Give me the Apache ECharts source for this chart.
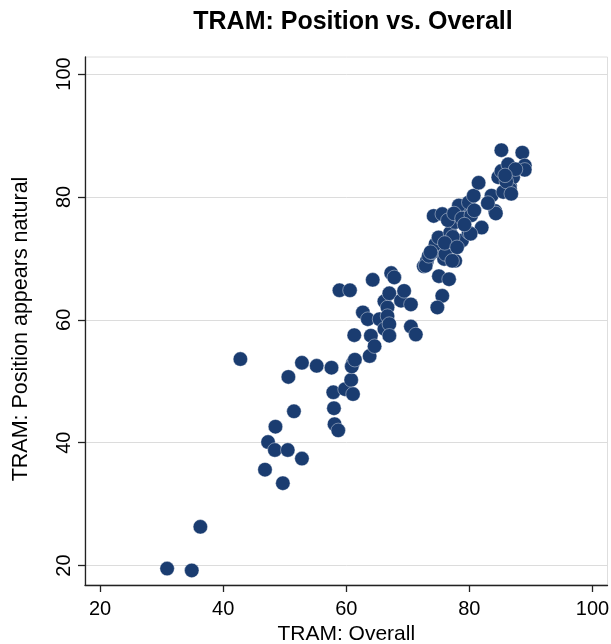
<!DOCTYPE html>
<html>
<head>
<meta charset="utf-8">
<script src="https://cdn.jsdelivr.net/npm/echarts@6/dist/echarts.min.js"></script>
<style>html,body{margin:0;padding:0;background:#fff}#c{width:611px;height:644px}</style>
</head>
<body>
<div id="c"></div>
<script>
var titleText = "TRAM: Position vs. Overall";
var xName = "TRAM: Overall";
var yName = "TRAM: Position appears natural";
var xTicks = [20, 40, 60, 80, 100];
var yTicks = [20, 40, 60, 80, 100];
var overall = [
 30.9,34.9,36.3,42.8,46.8,47.3,48.4,48.5,49.7,50.5,50.6,51.5,52.8,52.8,55.2,57.6,
 57.9,58.0,58.1,58.7,59.8,60.8,61.1,61.1,61.3,60.9,61.4,
 58.9,60.6,62.7,63.5,63.8,64.0,64.3,64.6,65.4,66.2,66.2,66.7,66.7,67.0,67.0,67.0,67.3,67.8,68.9,69.4,70.5,70.5,71.3,72.6,73.1,
 72.9,73.4,74.0,74.5,75.0,75.9,76.1,77.7,75.05,76.7,75.6,74.8,74.2,75.6,76.9,77.7,78.5,78.8,79.6,79.9,82.0,78.3,79.9,80.7,81.5,83.6,84.2,
 84.7,85.2,85.2,86.3,86.6,87.1,88.6,89.0,89.0,86.6,84.3,80.2,
 76.5,77.5,78.8,80.3,80.8,79.2,77.3,76.0,78.0,83.0,85.5,86.0,87.5,85.8,86.8,73.7,77.2
];
var position = [
 19.5,19.2,26.3,53.6,35.6,40.1,38.8,42.6,33.4,38.8,50.7,45.1,37.4,53.0,52.5,52.2,
 48.2,45.6,43.0,42.0,48.7,50.2,47.9,53.0,57.5,52.4,53.5,
 64.8,64.8,61.2,60.1,54.1,57.4,66.5,55.7,60.1,63.0,58.5,62.0,60.6,59.3,57.4,64.3,67.6,66.9,63.1,64.7,62.5,58.9,57.6,68.7,69.6,
 68.8,70.4,71.0,72.3,73.4,69.9,70.7,69.6,67.1,66.6,63.9,62.0,76.9,77.2,74.2,75.9,78.0,72.9,78.8,74.2,75.0,78.6,79.1,80.2,82.3,80.2,77.7,
 83.2,84.2,87.6,85.3,81.8,83.2,87.2,85.1,84.4,81.3,77.3,74.0,
 76.2,77.3,76.5,77.0,77.8,75.5,73.5,72.5,71.8,79.0,80.8,82.5,84.5,83.5,80.5,71.0,69.6
];
var points = overall.map(function(v, i){ return [v, position[i]]; });

var font = "'Liberation Sans', Arial, Helvetica, sans-serif";
var chart = echarts.init(document.getElementById('c'), null, {renderer: 'canvas'});
chart.setOption({
  animation: false,
  backgroundColor: '#fff',
  title: {
    text: titleText, left: 348, top: 5, textAlign: 'center',
    textStyle: {fontFamily: font, fontSize: 25, fontWeight: 'bold', color: '#000'}
  },
  grid: {left: 85, right: 3.5, top: 57, bottom: 59, containLabel: false, outerBoundsMode: 'none',
         show: true, borderColor: '#dedede', borderWidth: 1},
  xAxis: {
    type: 'value', min: 17.56, max: 102.44,
    name: xName, nameLocation: 'middle', nameGap: 35,
    nameTextStyle: {fontFamily: font, fontSize: 21, color: '#000'},
    axisLine: {show: true, lineStyle: {color: '#222', width: 1.3}},
    axisTick: {show: true, length: 7, customValues: xTicks, lineStyle: {color: '#222', width: 1.3}},
    axisLabel: {customValues: xTicks, margin: 14, fontFamily: font, fontSize: 20, color: '#000'},
    splitLine: {show: false}
  },
  yAxis: {
    type: 'value', min: 16.83, max: 102.77,
    name: yName, nameLocation: 'middle', nameGap: 53, nameRotate: 90,
    nameTextStyle: {fontFamily: font, fontSize: 21.5, color: '#000', padding: [0, 16, 0, 0]},
    axisLine: {show: true, lineStyle: {color: '#222', width: 1.3}},
    axisTick: {show: true, length: 7, customValues: yTicks, lineStyle: {color: '#222', width: 1.3}},
    axisLabel: {customValues: yTicks, rotate: 90, margin: 11, fontFamily: font, fontSize: 20, color: '#000', align: 'center', verticalAlign: 'bottom'},
    splitLine: {show: true, lineStyle: {color: '#dcdcdc', width: 1}}
  },
  series: [{
    type: 'scatter', data: points, symbol: 'circle', symbolSize: 14.5,
    itemStyle: {color: '#1a3c70', borderColor: 'rgba(255,255,255,0.5)', borderWidth: 0.8, opacity: 1}
  }]
});
</script>
</body>
</html>
